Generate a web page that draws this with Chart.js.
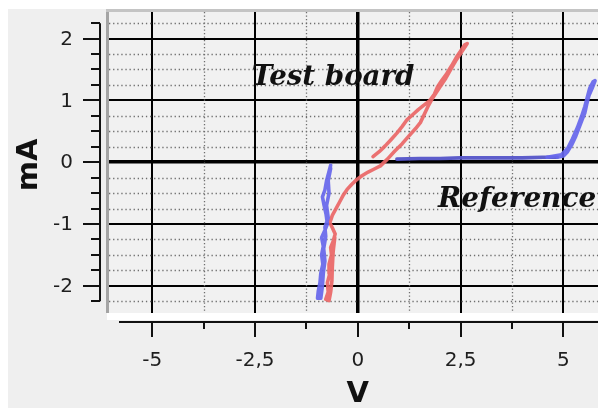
<!DOCTYPE html>
<html>
<head>
<meta charset="utf-8">
<script src="https://cdn.jsdelivr.net/npm/chart.js@4"></script>
<style>
  html, body { margin: 0; padding: 0; background: #ffffff; }
  #wrap { width: 598px; height: 409px; position: relative; }
</style>
</head>
<body>
<div id="wrap"><canvas id="iv" width="598" height="409"></canvas></div>
<script>
// Axis ticks
const xTickValues = [-5, -2.5, 0, 2.5, 5];
const xTickLabels = ['-5', '-2,5', '0', '2,5', '5'];
const xMinorValues = [-3.75, -1.25, 1.25, 3.75];
const yTickValues = [-2, -1, 0, 1, 2];
const yTickLabels = ['-2', '-1', '0', '1', '2'];
const yMinorValues = [-2.25, -1.75, -1.5, -1.25, -0.75, -0.5, -0.25,
                      0.25, 0.5, 0.75, 1.25, 1.5, 1.75, 2.25];

// Test board trace (V, mA): short descent, upward sweep, then return
const testV = [-0.56, -0.60, -0.62, -0.63, -0.66, -0.70,
               -0.78, -0.72, -0.74, -0.68, -0.70, -0.64, -0.66, -0.60, -0.55, -0.62,
               -0.68, -0.62, -0.52, -0.44, -0.36, -0.26, -0.15, -0.04, 0.10, 0.25,
               0.40, 0.55, 0.72, 0.90, 1.08, 1.25, 1.40, 1.52, 1.62, 1.72,
               1.82, 1.92, 2.02, 2.14, 2.26, 2.38, 2.50, 2.60, 2.66,
               2.60, 2.50, 2.40, 2.28, 2.16, 2.04, 1.94, 1.86, 1.74, 1.60,
               1.47, 1.32, 1.20, 1.08, 0.95, 0.80, 0.66, 0.52, 0.37];
const testI = [-1.22, -1.45, -1.70, -1.92, -2.10, -2.24,
               -2.22, -2.10, -1.95, -1.80, -1.65, -1.50, -1.38, -1.28, -1.16, -1.06,
               -0.98, -0.86, -0.74, -0.64, -0.54, -0.44, -0.36, -0.29, -0.22, -0.16,
               -0.11, -0.06, 0.05, 0.18, 0.30, 0.43, 0.54, 0.64, 0.78, 0.92,
               1.04, 1.14, 1.24, 1.36, 1.50, 1.64, 1.76, 1.86, 1.92,
               1.90, 1.80, 1.70, 1.56, 1.43, 1.32, 1.22, 1.10, 0.99, 0.92,
               0.85, 0.76, 0.69, 0.58, 0.47, 0.36, 0.26, 0.17, 0.09];

// Reference trace, reverse branch (V, mA)
const refRevV = [-0.66, -0.70, -0.76, -0.80, -0.86, -0.82, -0.77, -0.74, -0.80, -0.88,
                 -0.84, -0.88, -0.85, -0.90, -0.92, -0.96, -0.98,
                 -0.90, -0.86, -0.84, -0.80, -0.83, -0.78, -0.80, -0.72, -0.76, -0.70, -0.72, -0.66];
const refRevI = [-0.05, -0.15, -0.30, -0.45, -0.56, -0.70, -0.85, -1.00, -1.10, -1.22,
                 -1.36, -1.50, -1.65, -1.80, -1.95, -2.08, -2.20,
                 -2.20, -2.00, -1.80, -1.60, -1.40, -1.20, -1.05, -0.90, -0.70, -0.50, -0.30, -0.10];

// Reference trace, forward branch (V, mA)
const refFwdV = [0.95, 1.5, 2.0, 2.5, 3.0, 3.5, 4.0, 4.5, 4.85, 5.0,
                 5.10, 5.20, 5.30, 5.38, 5.45, 5.52, 5.57, 5.62, 5.70, 5.77,
                 5.72, 5.64, 5.58, 5.52, 5.44, 5.34, 5.22, 5.10, 4.95, 4.60];
const refFwdI = [0.05, 0.06, 0.06, 0.07, 0.07, 0.07, 0.07, 0.08, 0.08, 0.10,
                 0.17, 0.28, 0.42, 0.56, 0.68, 0.80, 0.95, 1.08, 1.20, 1.32,
                 1.30, 1.20, 1.05, 0.90, 0.74, 0.56, 0.38, 0.22, 0.12, 0.08];

const zip = (xs, ys) => xs.map((x, i) => ({ x: x, y: ys[i] }));

const RED = 'rgba(234, 102, 102, 0.92)';
const BLUE = 'rgba(102, 102, 236, 0.92)';
const BLUE_FLAT = 'rgba(84, 84, 200, 0.95)';
const TICK_FONT = '20px "DejaVu Sans"';
const TITLE_FONT = 'bold 29px "DejaVu Sans"';

function fitFont(ctx, text, width, style, family) {
  let size = 26;
  ctx.font = style + ' ' + size + 'px ' + family;
  const w = ctx.measureText(text).width;
  size = size * width / w;
  return style + ' ' + size.toFixed(1) + 'px ' + family;
}

const decorations = {
  id: 'decorations',
  beforeDraw(chart) {
    const c = chart.ctx, W = chart.width, H = chart.height, a = chart.chartArea;
    c.save();
    c.fillStyle = '#ffffff';
    c.fillRect(0, 0, W, H);
    c.fillStyle = '#efefef';
    c.fillRect(8, 9, W - 8, H - 10);
    c.fillStyle = '#f1f1f1';
    c.fillRect(a.left, a.top, a.right - a.left, a.bottom - a.top);
    c.restore();
  },
  beforeDatasetsDraw(chart) {
    // dotted minor grid
    const c = chart.ctx, a = chart.chartArea, xs = chart.scales.x, ys = chart.scales.y;
    c.save();
    c.beginPath();
    c.rect(a.left, a.top, a.right - a.left, a.bottom - a.top);
    c.clip();
    c.strokeStyle = '#6e6e6e';
    c.lineWidth = 1.3;
    c.setLineDash([1.3, 2.8]);
    yMinorValues.forEach(v => {
      const y = Math.round(ys.getPixelForValue(v)) + 0.5;
      c.beginPath(); c.moveTo(a.left, y); c.lineTo(a.right, y); c.stroke();
    });
    c.setLineDash([1.3, 2.2]);
    xMinorValues.forEach(v => {
      const x = Math.round(xs.getPixelForValue(v)) + 0.5;
      c.beginPath(); c.moveTo(x, a.top); c.lineTo(x, a.bottom); c.stroke();
    });
    c.restore();
  },
  afterDatasetsDraw(chart) {
    const c = chart.ctx, xs = chart.scales.x, ys = chart.scales.y;
    c.save();
    c.fillStyle = '#111111';
    c.textAlign = 'left';
    c.textBaseline = 'alphabetic';
    c.font = fitFont(c, 'Test board', 163, 'italic bold', '"DejaVu Serif"');
    c.fillText('Test board', xs.getPixelForValue(-2.58), ys.getPixelForValue(1.25));
    c.font = fitFont(c, 'Reference', 158, 'italic bold', '"DejaVu Serif"');
    c.fillText('Reference', xs.getPixelForValue(1.95), ys.getPixelForValue(-0.73));
    c.restore();
  },
  afterDraw(chart) {
    const c = chart.ctx, a = chart.chartArea, xs = chart.scales.x, ys = chart.scales.y;
    const W = chart.width;
    c.save();
    // frame of the plot panel
    c.fillStyle = '#ffffff';
    c.fillRect(a.left - 2, a.bottom, W - a.left + 2, 7);
    c.fillStyle = '#a4a4a4';
    c.fillRect(a.left - 3, a.top - 2, 3, a.bottom - a.top + 2);
    c.fillStyle = '#c4c4c4';
    c.fillRect(a.left - 3, a.top - 3, W - a.left + 3, 3);

    c.strokeStyle = '#111111';
    c.fillStyle = '#1e1e1e';
    c.lineWidth = 2;

    // left axis
    const axX = 100;
    const yTop = ys.getPixelForValue(2.25), yBot = ys.getPixelForValue(-2.25);
    c.beginPath(); c.moveTo(axX, yTop); c.lineTo(axX, yBot); c.stroke();
    yTickValues.forEach(v => {
      const y = Math.round(ys.getPixelForValue(v));
      c.beginPath(); c.moveTo(83, y); c.lineTo(axX, y); c.stroke();
    });
    yMinorValues.forEach(v => {
      const y = Math.round(ys.getPixelForValue(v));
      c.beginPath(); c.moveTo(91, y); c.lineTo(axX, y); c.stroke();
    });
    c.font = TICK_FONT;
    c.textAlign = 'right';
    c.textBaseline = 'middle';
    yTickValues.forEach((v, i) => {
      c.fillText(yTickLabels[i], 73, ys.getPixelForValue(v) + 1);
    });

    // bottom axis
    const axY = 322;
    c.beginPath(); c.moveTo(119, axY); c.lineTo(W, axY); c.stroke();
    xTickValues.forEach(v => {
      const x = Math.round(xs.getPixelForValue(v));
      c.beginPath(); c.moveTo(x, axY); c.lineTo(x, 337); c.stroke();
    });
    xMinorValues.forEach(v => {
      const x = Math.round(xs.getPixelForValue(v));
      c.beginPath(); c.moveTo(x, axY); c.lineTo(x, 329); c.stroke();
    });
    c.textAlign = 'center';
    xTickValues.forEach((v, i) => {
      c.fillText(xTickLabels[i], xs.getPixelForValue(v), 361);
    });

    // axis titles
    c.fillStyle = '#111111';
    c.font = TITLE_FONT;
    c.fillText('V', xs.getPixelForValue(0), 394);
    c.translate(29, 165);
    c.rotate(-Math.PI / 2);
    c.fillText('mA', 0, 0);
    c.restore();
  }
};

new Chart(document.getElementById('iv'), {
  type: 'scatter',
  data: {
    datasets: [
      { label: 'Reference', data: zip(refRevV, refRevI), borderColor: BLUE },
      {
        label: 'Reference', data: zip(refFwdV, refFwdI), borderColor: BLUE,
        segment: { borderColor: s => (s.p0.parsed.x < 4.9 && s.p1.parsed.x < 4.9 ? BLUE_FLAT : undefined) }
      },
      { label: 'Test board', data: zip(testV, testI), borderColor: RED }
    ]
  },
  options: {
    responsive: false,
    animation: false,
    devicePixelRatio: 1,
    showLine: true,
    layout: { padding: { left: 109, top: 12, right: 0, bottom: 96 } },
    elements: {
      point: { radius: 0, hoverRadius: 0 },
      line: { borderWidth: 3.6, tension: 0, fill: false, borderJoinStyle: 'round', borderCapStyle: 'round' }
    },
    plugins: { legend: { display: false }, tooltip: { enabled: false } },
    scales: {
      x: {
        type: 'linear', min: -6.05, max: 5.84,
        afterBuildTicks: s => { s.ticks = xTickValues.map(v => ({ value: v })); },
        ticks: { display: false },
        border: { display: false },
        grid: {
          drawTicks: false,
          color: '#000000',
          lineWidth: ctx => (ctx.tick && ctx.tick.value === 0 ? 3.5 : 2)
        }
      },
      y: {
        type: 'linear', min: -2.44, max: 2.43,
        afterBuildTicks: s => { s.ticks = yTickValues.map(v => ({ value: v })); },
        ticks: { display: false },
        border: { display: false },
        grid: {
          drawTicks: false,
          color: '#000000',
          lineWidth: ctx => (ctx.tick && ctx.tick.value === 0 ? 3.5 : 2)
        }
      }
    }
  },
  plugins: [decorations]
});
</script>
</body>
</html>
